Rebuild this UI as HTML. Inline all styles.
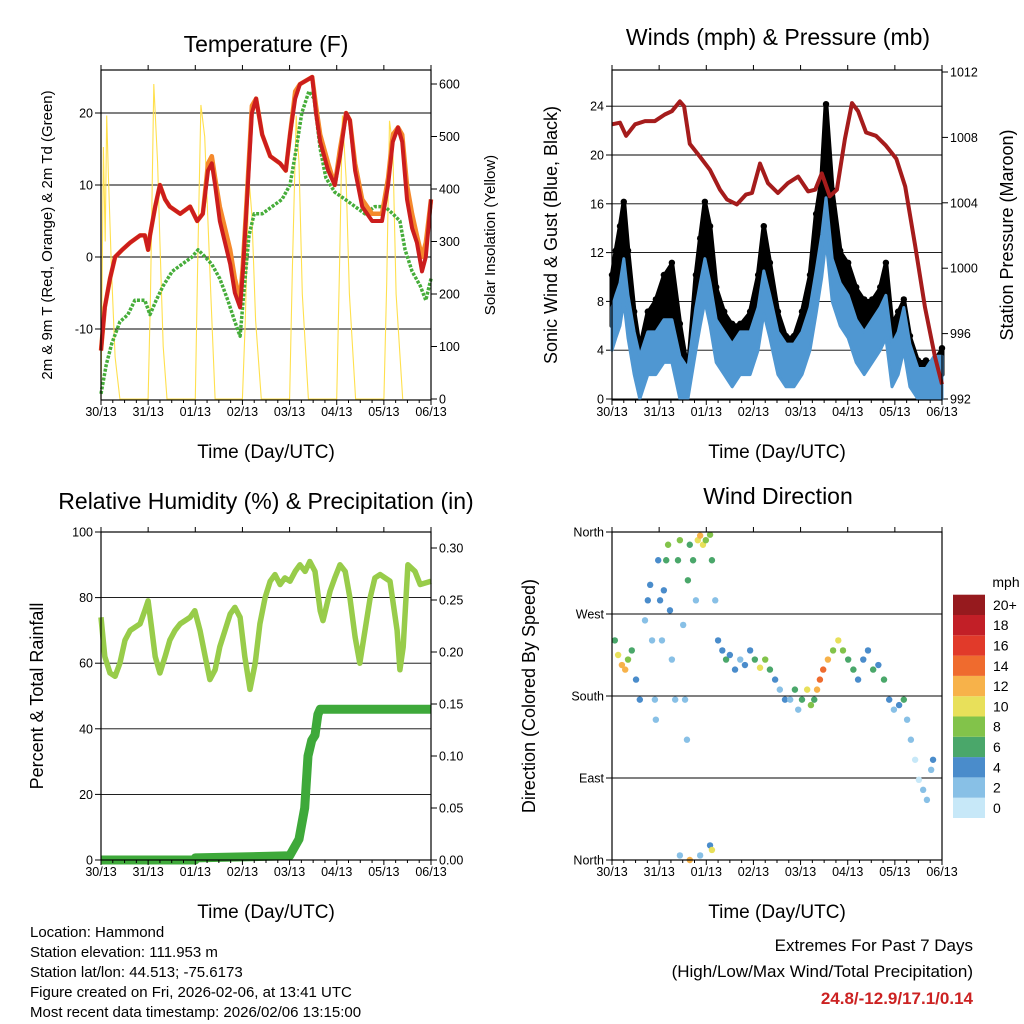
<!DOCTYPE html>
<html><head><meta charset="utf-8"><style>
body{margin:0;background:#fff;}
svg{display:block;font-family:"Liberation Sans",Arial,sans-serif;}
</style></head><body>
<svg id="chart" width="1024" height="1024" viewBox="0 0 1024 1024"></svg>
<script>
// ---------- DATA ----------
const dayLabels = ["30/13","31/13","01/13","02/13","03/13","04/13","05/13","06/13"];
// Temperature panel
const tRedT = [0,.08,.19,.30,.45,.62,.83,.93,1.0,1.04,1.15,1.25,1.36,1.46,1.68,1.89,2.04,2.16,2.27,2.35,2.42,2.52,2.63,2.74,2.84,2.95,3.01,3.10,3.20,3.29,3.42,3.59,3.80,3.92,4.01,4.12,4.22,4.48,4.56,4.65,4.82,4.96,5.07,5.20,5.28,5.39,5.54,5.75,5.96,6.09,6.19,6.30,6.39,6.49,6.60,6.70,6.81,6.89,7.0];
const tRed = [-13,-7,-3,0,1,2,3,3,1,3,7,10,8,7,6,7,5,6,12,13,10,5,2,-1,-5,-7,-2,8,20,22,17,14,13,12,17,22,24,25,20,16,12,10,14,20,19,12,7,5,5,10,16,18,16,8,4,2,-2,0,8];
const tOrange = [-13,-7,-3,0,1,2,3,3,1,3,7,10,8,7,6,7,5,6,13,14,11,7,4,1,-3,-6,-1,9,21,22,17,14,13,12,17,23,24,25,21,17,13,10,15,20,19,13,8,6,6,11,17,18,17,10,6,3,0,2,8];
const tDewT = [0,.11,.23,.40,.57,.72,.93,1.04,1.17,1.32,1.51,1.72,1.93,2.06,2.21,2.35,2.52,2.69,2.84,2.95,3.03,3.14,3.25,3.42,3.63,3.84,4.01,4.14,4.26,4.41,4.52,4.65,4.77,4.96,5.18,5.39,5.60,5.81,6.02,6.19,6.34,6.45,6.60,6.77,6.89,7.0];
const tDew = [-19,-15,-12,-9,-8,-6,-6,-8,-6,-4,-2,-1,0,1,0,-1,-3,-6,-9,-11,-5,3,6,6,7,8,10,15,20,23,22,15,11,9,8,7,6,7,7,6,5,1,-2,-4,-6,-3];
const solarT = [0,.05,.09,.12,.16,.22,.30,.40, 1.0,1.05,1.12,1.2,1.25,1.32,1.4, 2.0,2.05,2.12,2.2,2.25,2.33,2.42, 3.0,3.06,3.14,3.2,3.28,3.4, 4.0,4.06,4.14,4.2,4.27,4.4, 5.0,5.06,5.12,5.2,5.27,5.4, 6.0,6.06,6.12,6.19,6.26,6.4];
const solarV = [0,480,300,540,420,250,80,0, 0,200,600,450,300,100,0, 0,250,560,500,380,200,0, 0,150,420,350,150,0, 0,250,540,450,200,0, 0,250,540,420,200,0, 0,220,530,480,200,0];
// Winds panel
const wT = [0,.08,.17,.25,.34,.47,.59,.76,.93,1.10,1.27,1.44,1.61,1.78,1.87,1.97,2.08,2.21,2.38,2.55,2.72,2.93,3.10,3.22,3.35,3.52,3.69,3.86,4.03,4.20,4.33,4.45,4.54,4.67,4.84,5.01,5.18,5.35,5.52,5.69,5.81,5.94,6.07,6.19,6.32,6.49,6.66,6.83,7.0];
const wAvg = [6,7,8,10,7,4,2,4,4,5,5,2,1,6,8,10,8,5,4,3,4,4,6,9,7,4,3,3,4,6,9,12,15,10,8,7,5,4,5,6,7,3,4,6,3,1,1,2,2];
const wGust = [10,12,14,16,12,7,4,7,8,10,11,6,2,10,13,16,14,9,7,6,6,7,10,14,11,7,5,5,7,10,15,18,24,17,12,11,9,8,8,9,11,6,7,8,5,3,3,3,4];
const pT = [0,.17,.30,.49,.70,.91,1.12,1.27,1.44,1.53,1.65,1.87,2.08,2.29,2.44,2.65,2.84,2.97,3.14,3.31,3.52,3.73,3.95,4.16,4.31,4.45,4.62,4.77,4.94,5.09,5.22,5.39,5.60,5.81,6.03,6.22,6.43,6.64,6.85,7.0];
const pV = [1008.8,1008.9,1008.1,1008.8,1009.0,1009.0,1009.4,1009.6,1010.2,1009.9,1007.6,1006.8,1006.0,1004.8,1004.2,1003.9,1004.5,1004.6,1006.4,1005.2,1004.6,1005.2,1005.6,1004.7,1004.8,1005.8,1004.4,1004.8,1007.9,1010.1,1009.6,1008.3,1008.1,1007.5,1006.7,1005.0,1001.4,997.6,994.6,992.9];
// RH panel
const rhT = [0,.08,.19,.30,.40,.51,.62,.83,.93,1.0,1.08,1.15,1.25,1.36,1.46,1.57,1.68,1.89,1.99,2.10,2.21,2.31,2.42,2.52,2.63,2.74,2.84,2.95,3.05,3.16,3.27,3.37,3.48,3.59,3.69,3.80,3.90,4.01,4.12,4.22,4.33,4.43,4.54,4.65,4.71,4.86,4.96,5.07,5.18,5.28,5.39,5.49,5.60,5.71,5.81,5.92,6.13,6.28,6.34,6.41,6.51,6.66,6.77,7.0];
const rhV = [74,62,57,56,60,67,70,72,76,79,70,62,57,62,67,70,72,74,76,70,62,55,58,65,70,75,77,74,62,52,60,72,80,85,87,84,86,85,88,90,88,91,88,76,73,82,86,90,88,80,68,60,70,80,86,87,85,70,58,65,90,88,84,85];
const prT = [0,2.0,2.0,4.0,4.2,4.32,4.39,4.47,4.54,4.6,4.65,7.0];
const prV = [0,0,.002,.004,.02,.05,.10,.115,.12,.14,.145,.145];
// Wind direction panel
const dirT = [.06,.13,.21,.28,.34,.42,.51,.59,.70,.76,.81,.85,.91,.93,.98,1.02,1.06,1.10,1.15,1.19,1.23,1.27,1.34,1.40,1.44,1.51,1.55,1.59,1.61,1.65,1.72,1.78,1.82,1.87,1.93,1.99,2.08,2.12,2.19,2.25,2.34,2.42,2.50,2.61,2.72,2.82,2.93,3.03,3.14,3.25,3.35,3.46,3.56,3.67,3.78,3.88,3.95,4.03,4.14,4.22,4.29,4.35,4.41,4.48,4.58,4.69,4.80,4.90,5.01,5.12,5.22,5.33,5.43,5.54,5.65,5.77,5.88,5.98,6.09,6.19,6.26,6.34,6.43,6.51,6.60,6.68,6.77,6.81,1.44,1.87,2.08,2.12,1.65];
const dirV = [241,225,214,209,220,230,198,176,263,285,302,241,176,154,329,285,241,296,329,346,274,220,176,329,351,258,176,132,307,346,329,285,351,356,346,351,357,329,285,241,230,220,225,209,220,214,230,220,211,220,209,198,187,176,176,187,165,176,187,170,176,187,198,209,220,230,241,230,220,209,198,220,230,209,214,198,176,165,170,176,154,132,110,88,77,66,99,110,5,5,16,11,0];
const dirS = [6,10,12,12,8,6,4,4,2,4,4,3,2,2,4,5,3,4,6,8,4,2,3,6,8,2,2,2,6,6,7,3,10,12,10,8,8,6,2,4,4,6,5,4,3,5,4,7,10,9,6,4,3,4,2,6,3,6,10,8,6,12,14,15,12,8,10,8,6,6,4,5,4,6,5,7,5,3,4,6,3,2,1,1,2,2,3,4,3,2,4,10,12,4];
const cbLabels = ["0","2","4","6","8","10","12","14","16","18","20+"];
const cbColors = ["#c7e8f8","#88c0e6","#4a8ccb","#4aa76a","#82c34a","#e8e05a","#f7b24a","#ef6b2e","#e13a2a","#c21f27","#961a1e"];

// ---------- HELPERS ----------
const NS="http://www.w3.org/2000/svg";
const svg=document.getElementById('chart');
function mk(tag,attrs,parent){const e=document.createElementNS(NS,tag);for(const k in attrs)e.setAttribute(k,attrs[k]);(parent||svg).appendChild(e);return e;}
function lin(d0,d1,r0,r1){return v=>r0+(v-d0)*(r1-r0)/(d1-d0);}
function txt(x,y,s,size,anchor,extra){const t=mk('text',Object.assign({x:x,y:y,'font-size':size,'text-anchor':anchor||'middle',fill:'#000'},extra||{}));t.textContent=s;return t;}
function pathOf(ts,vs,X,Y){return ts.map((t,i)=>(i?'L':'M')+X(t).toFixed(1)+','+Y(vs[i]).toFixed(1)).join('');}
function bandOf(ts,lo,hi,X,Y){
  let d=ts.map((t,i)=>(i?'L':'M')+X(t).toFixed(1)+','+Y(hi[i]).toFixed(1)).join('');
  for(let i=ts.length-1;i>=0;i--)d+='L'+X(ts[i]).toFixed(1)+','+Y(lo[i]).toFixed(1);
  return d+'Z';
}
function spdColor(s){let i=Math.min(10,Math.floor(s/2));return cbColors[i];}

function panel(name,x0,x1,y0,y1){
  const r=mk('rect',{x:x0,y:y0,width:x1-x0,height:y1-y0,fill:'none',stroke:'#000','stroke-width':1.2});
  
  
  const X=lin(0,7,x0,x1);
  for(let i=0;i<8;i++){
    const tk=mk('line',{x1:X(i),x2:X(i),y1:y1,y2:y1+5,stroke:'#000'});
    
    
    const tk2=mk('line',{x1:X(i),x2:X(i),y1:y0,y2:y0-5,stroke:'#000'});
    
    
    const lb=txt(X(i),y1+16,dayLabels[i],12.5);
    
    
  }
  for(let i=0;i<28;i++){ if(i%4===0)continue;
    const tk=mk('line',{x1:X(i/4),x2:X(i/4),y1:y1,y2:y1+3,stroke:'#000'});
    
    
  }
  const xt=txt((x0+x1)/2,y1+58,'Time (Day/UTC)',19);
  
  
  return X;
}
function yAxis(name,vals,labels,Y,x0,x1,side,grid){
  vals.forEach((v,i)=>{
    const y=Y(v);
    if(grid){const g=mk('line',{x1:x0,x2:x1,y1:y,y2:y,stroke:'#000','stroke-width':0.9});
      
      }
    const xe=side==='left'?x0:x1, d=side==='left'?-6:6;
    const tk=mk('line',{x1:xe,x2:xe+d,y1:y,y2:y,stroke:'#000'});
    
    
    const lb=txt(side==='left'?x0-8:x1+8,y+4.5,labels[i],12.5,side==='left'?'end':'start');
    
    
  });
}
function vtitle(name,x,y,s,size){const t=txt(x,y,s,size,'middle',{transform:'rotate(-90 '+x+' '+y+')'});
  
  }
function title(name,x,y,s){const t=txt(x,y,s,23);
  
  }

// ---------- PANEL 1: TEMPERATURE ----------
{
const x0=101,x1=431,y0=70,y1=400;
const X=lin(0,7,x0,x1);
const Y=lin(0,10,257,185);
const YS=lin(0,100,399,346.5);
title('temperature-title',266,52,'Temperature (F)');
yAxis('temp-left-axis',[20,10,0,-10],['20','10','0','-10'],Y,x0,x1,'left',true);
yAxis('solar-right-axis',[0,100,200,300,400,500,600],['0','100','200','300','400','500','600'],YS,x0,x1,'right',false);
const sp=mk('path',{d:pathOf(solarT,solarV,X,YS),fill:'none',stroke:'#ffe04d','stroke-width':1.1});


const dp=mk('path',{d:pathOf(tDewT,tDew,X,Y),fill:'none',stroke:'#46ad3a','stroke-width':3.5,'stroke-dasharray':'3 1.5','stroke-linejoin':'round'});


const op=mk('path',{d:pathOf(tRedT,tOrange,X,Y),fill:'none',stroke:'#f5892c','stroke-width':4.5,'stroke-linejoin':'round'});


const rp=mk('path',{d:pathOf(tRedT,tRed,X,Y),fill:'none',stroke:'#cc1d1d','stroke-width':4,'stroke-linejoin':'round'});


panel('temp-panel',x0,x1,y0,y1);
vtitle('temp-left-axis-title',52,235,'2m & 9m T (Red, Orange) & 2m Td (Green)',15);
vtitle('solar-right-axis-title',495,235,'Solar Insolation (Yellow)',15);
}

// ---------- PANEL 2: WINDS ----------
{
const x0=612,x1=942,y0=70,y1=400;
const X=lin(0,7,x0,x1);
const Y=v=>Math.min(399,399-v*12.2);
const YP=lin(992,996,399,333.6);
title('winds-title',778,45,'Winds (mph) & Pressure (mb)');
yAxis('wind-left-axis',[0,4,8,12,16,20,24],['0','4','8','12','16','20','24'],Y,x0,x1,'left',true);
yAxis('pressure-right-axis',[992,996,1000,1004,1008,1012],['992','996','1000','1004','1008','1012'],YP,x0,x1,'right',false);
const gb=mk('path',{d:bandOf(wT,wAvg,wGust,X,Y),fill:'#000',stroke:'#000','stroke-width':5,'stroke-linejoin':'round'});


wT.forEach((t,i)=>{
  const c=mk('circle',{cx:X(t),cy:Y(wGust[i])-2,r:3.2,fill:'#000'});
  
  
});
const lo=wAvg.map(v=>Math.max(0,v-2)), hi=wAvg.map(v=>v+1.5);
const ab=mk('path',{d:bandOf(wT,lo,hi,X,Y),fill:'#4f97d2',stroke:'#4f97d2','stroke-width':3,'stroke-linejoin':'round'});


const pp=mk('path',{d:pathOf(pT,pV,X,YP),fill:'none',stroke:'#a51c1c','stroke-width':4,'stroke-linejoin':'round'});


panel('winds-panel',x0,x1,y0,y1);
vtitle('wind-left-axis-title',557,235,'Sonic Wind & Gust (Blue, Black)',18);
vtitle('pressure-right-axis-title',1013,235,'Station Pressure (Maroon)',18);
}

// ---------- PANEL 3: RH ----------
{
const x0=101,x1=431,y0=532,y1=860;
const X=lin(0,7,x0,x1);
const Y=lin(0,100,860,532);
const YR=lin(0,0.1,860,756);
title('rh-title',266,509,'Relative Humidity (%) & Precipitation (in)');
yAxis('rh-left-axis',[0,20,40,60,80,100],['0','20','40','60','80','100'],Y,x0,x1,'left',true);
yAxis('precip-right-axis',[0,.05,.1,.15,.2,.25,.3],['0.00','0.05','0.10','0.15','0.20','0.25','0.30'],YR,x0,x1,'right',false);
const rp=mk('path',{d:pathOf(rhT,rhV,X,Y),fill:'none',stroke:'#98cc4a','stroke-width':5.5,'stroke-linejoin':'round'});


const pp=mk('path',{d:pathOf(prT,prV,X,YR),fill:'none',stroke:'#3ea93a','stroke-width':9,'stroke-linejoin':'round'});


panel('rh-panel',x0,x1,y0,y1);
vtitle('rh-left-axis-title',43,696,'Percent & Total Rainfall',18);
}

// ---------- PANEL 4: WIND DIRECTION ----------
{
const x0=612,x1=942,y0=532,y1=860;
const X=lin(0,7,x0,x1);
const Y=lin(0,360,860,532);
title('wind-direction-title',778,504,'Wind Direction');
yAxis('direction-axis',[0,90,180,270,360],['North','East','South','West','North'],Y,x0,x1,'left',true);
dirT.forEach((t,i)=>{
  const c=mk('circle',{cx:X(t),cy:Y(dirV[i]),r:3.2,fill:spdColor(dirS[i])});
  
  
});
panel('direction-panel',x0,x1,y0,y1);
vtitle('direction-axis-title',535,696,'Direction (Colored By Speed)',18);
const ct=txt(1006,587,'mph',14);


const bh=20.3, btm=818;
cbColors.forEach((c,i)=>{
  const r=mk('rect',{x:953,y:btm-(i+1)*bh,width:32,height:bh,fill:c});
  
  
  const l=txt(993,btm-(i+0.5)*bh+5,cbLabels[i],14,'start');
  
  
});
}

// ---------- FOOTER ----------
const foot=["Location: Hammond","Station elevation: 111.953 m","Station lat/lon: 44.513; -75.6173","Figure created on Fri, 2026-02-06, at 13:41 UTC","Most recent data timestamp: 2026/02/06 13:15:00"];
foot.forEach((s,i)=>{
  const t=txt(30,937+i*20,s,15,'start');
  
  
});
const e1=txt(973,951,'Extremes For Past 7 Days',17,'end');


const e2=txt(973,977,'(High/Low/Max Wind/Total Precipitation)',17,'end');


const e3=txt(973,1004,'24.8/-12.9/17.1/0.14',17,'end',{fill:'#cc2222','font-weight':'bold'});


</script>
</body></html>
